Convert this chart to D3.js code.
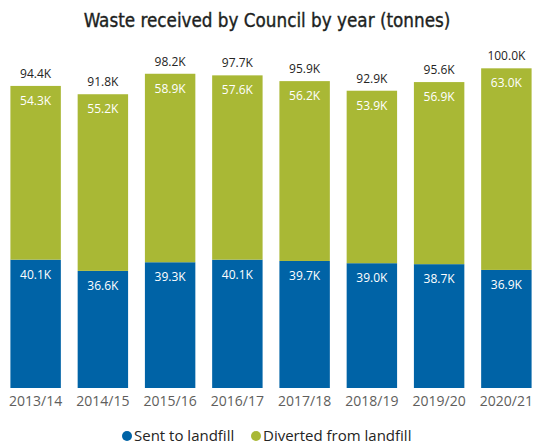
<!DOCTYPE html>
<html>
<head>
<meta charset="utf-8">
<script src="https://cdn.jsdelivr.net/npm/d3@7/dist/d3.min.js"></script>
<style>
  body { margin: 0; background: #fff; }
  svg { display: block; }
  text { font-family: "Open Sans", "Noto Sans", sans-serif; }
</style>
</head>
<body>
<div id="chart"></div>
<script>
// chart data
var years = ["2013/14","2014/15","2015/16","2016/17","2017/18","2018/19","2019/20","2020/21"];
var landfill = [40.1, 36.6, 39.3, 40.1, 39.7, 39.0, 38.7, 36.9];
var diverted = [54.3, 55.2, 58.9, 57.6, 56.2, 53.9, 56.9, 63.0];
var totals = [94.4, 91.8, 98.2, 97.7, 95.9, 92.9, 95.6, 100.0];
var seriesNames = ["Sent to landfill", "Diverted from landfill"];
var seriesColors = ["#0063a6", "#a9b835"];

var W = 535, H = 444;
var svg = d3.select("#chart").append("svg").attr("width", W).attr("height", H);

var x = d3.scaleBand().domain(years).range([2, 540]).paddingInner(0.25).paddingOuter(0.125);
var y = d3.scaleLinear().domain([0, 100]).range([388, 68]);

function fmt(v) { return v.toFixed(1) + "K"; }

// title
svg.append("text")
  .attr("x", 267).attr("y", 27)
  .attr("text-anchor", "middle")
  .style("font-family", "'DejaVu Sans Condensed', 'DejaVu Sans', sans-serif")
  .style("font-size", "18.7px")
  .attr("fill", "#201f1e")
  .attr("stroke", "#201f1e")
  .attr("stroke-width", 0.35)
  .text("Waste received by Council by year (tonnes)");

var rows = years.map(function(yr, i) {
  return { year: yr, landfill: landfill[i], diverted: diverted[i], total: totals[i] };
});
var stack = d3.stack().keys(["landfill", "diverted"])(rows);

var layers = svg.selectAll("g.layer")
  .data(stack)
  .enter().append("g")
  .attr("class", "layer")
  .attr("fill", function(d, i) { return seriesColors[i]; });

layers.selectAll("rect")
  .data(function(d) { return d; })
  .enter().append("rect")
  .attr("x", function(d) { return x(d.data.year); })
  .attr("width", x.bandwidth())
  .attr("y", function(d) { return y(d[1]); })
  .attr("height", function(d) { return y(d[0]) - y(d[1]); });

layers.selectAll("text")
  .data(function(d) { return d; })
  .enter().append("text")
  .attr("x", function(d) { return x(d.data.year) + x.bandwidth() / 2; })
  .attr("y", function(d) { return y(d[1]) + 19; })
  .attr("text-anchor", "middle")
  .attr("fill", "#fff")
  .style("font-size", "12px")
  .text(function(d) { return fmt(d[1] - d[0]); });

// totals
svg.selectAll("text.total")
  .data(rows)
  .enter().append("text")
  .attr("class", "total")
  .attr("x", function(d) { return x(d.year) + x.bandwidth() / 2; })
  .attr("y", function(d) { return y(d.total) - 8; })
  .attr("text-anchor", "middle")
  .attr("fill", "#252423")
  .style("font-size", "12px")
  .text(function(d) { return fmt(d.total); });

// x axis
var xAxis = svg.append("g")
  .attr("transform", "translate(0,388)")
  .call(d3.axisBottom(x).tickSize(0).tickPadding(8));
xAxis.select(".domain").remove();
xAxis.selectAll("text")
  .style("font-family", "'Open Sans', sans-serif")
  .style("font-size", "14px")
  .attr("fill", "#605e5c");

// legend
var legend = svg.append("g").attr("transform", "translate(0,436)");
var legX = [127, 256];
seriesNames.forEach(function(name, i) {
  legend.append("circle")
    .attr("cx", legX[i]).attr("cy", 0).attr("r", 5)
    .attr("fill", seriesColors[i]);
  legend.append("text")
    .attr("x", legX[i] + 7).attr("y", 5)
    .attr("fill", "#252423")
    .style("font-size", "15px")
    .text(name);
});
</script>
</body>
</html>
